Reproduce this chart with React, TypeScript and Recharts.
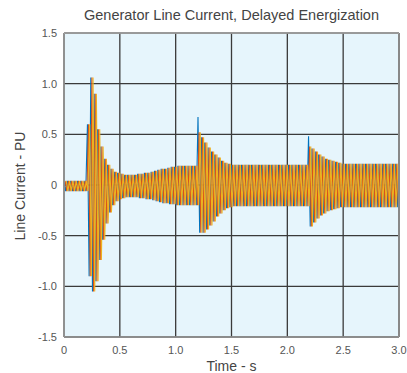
import React from "react";
import { LineChart, Line, XAxis, YAxis, CartesianGrid, ReferenceLine } from "recharts";

// positive / negative peak envelope of the phase currents, read every 0.03 s from 0 to 3.0 s
const upperEnvelope = [
  0.04, 0.04, 0.04, 0.04, 0.04, 0.04, 0.04,
  0.60, 1.06, 0.90, 0.55, 0.38, 0.26, 0.20, 0.16, 0.13, 0.12, 0.11,
  0.10, 0.10, 0.10, 0.10,
  0.11, 0.11, 0.12, 0.12, 0.13, 0.14, 0.15, 0.16, 0.16, 0.17, 0.18, 0.18,
  0.19, 0.19, 0.19, 0.19, 0.19, 0.19,
  0.52, 0.47, 0.42, 0.37, 0.33, 0.30, 0.27, 0.24, 0.22, 0.21,
  0.20, 0.20, 0.20, 0.20, 0.20, 0.20, 0.20, 0.20, 0.20, 0.20, 0.20, 0.20,
  0.20, 0.20, 0.20, 0.20, 0.20, 0.20, 0.20, 0.20, 0.20, 0.20, 0.20,
  0.38, 0.36, 0.33, 0.30, 0.28, 0.26, 0.25, 0.24, 0.23, 0.22, 0.21,
  0.21, 0.21, 0.21, 0.21, 0.21, 0.21, 0.21, 0.21, 0.21, 0.21, 0.21, 0.21,
  0.21, 0.21, 0.21, 0.21, 0.21,
];

const lowerEnvelope = [
  -0.06, -0.06, -0.06, -0.06, -0.06, -0.06, -0.06,
  -0.90, -1.05, -0.95, -0.74, -0.54, -0.38, -0.27, -0.20, -0.16, -0.14, -0.13,
  -0.12, -0.12, -0.12, -0.12,
  -0.13, -0.13, -0.14, -0.14, -0.15, -0.16, -0.17, -0.18, -0.18, -0.19, -0.19, -0.20,
  -0.20, -0.20, -0.20, -0.20, -0.20, -0.20,
  -0.47, -0.47, -0.44, -0.40, -0.36, -0.31, -0.28, -0.25, -0.23, -0.22,
  -0.21, -0.21, -0.21, -0.21, -0.21, -0.21, -0.21, -0.21, -0.21, -0.21, -0.21, -0.21,
  -0.21, -0.21, -0.21, -0.21, -0.21, -0.21, -0.21, -0.21, -0.21, -0.21, -0.21,
  -0.41, -0.37, -0.33, -0.30, -0.28, -0.26, -0.25, -0.24, -0.23, -0.22, -0.22,
  -0.22, -0.22, -0.22, -0.22, -0.22, -0.22, -0.22, -0.22, -0.22, -0.22, -0.22, -0.22,
  -0.22, -0.22, -0.22, -0.22, -0.22,
];

// single-phase peaks that stick out above the envelope (phase A, blue)
const phaseASpikes = [
  { index: 40, v: 0.67 },
  { index: 73, v: 0.48 },
];

const STEP = 0.03;
const phaseColors = ["#0072BD", "#D95319", "#EDB120"];
const xTicks = [0, 0.5, 1, 1.5, 2, 2.5, 3];
const yTicks = [-1.5, -1, -0.5, 0, 0.5, 1, 1.5];

const buildPhase = (k: number, spikes: { index: number; v: number }[]) =>
  upperEnvelope.flatMap((u, i) => {
    const spike = spikes.find((s) => s.index === i);
    const t0 = i * STEP + (k * STEP) / 3;
    return [
      { t: t0, v: spike ? spike.v : u },
      { t: t0 + STEP / 2, v: lowerEnvelope[i] },
    ];
  });

const phases = [buildPhase(0, phaseASpikes), buildPhase(1, []), buildPhase(2, [])];

const fmt = (v: number) => (v === 0 ? "0" : v.toFixed(1));
const font = "'Liberation Sans', Arial, sans-serif";
const tickStyle = { fill: "#555", fontSize: 11, fontFamily: font };

export default function App() {
  return (
    <div style={{ position: "absolute", left: 0, top: 0, width: 407, height: 373, background: "#fff", fontFamily: font }}>
      <div style={{ position: "absolute", left: 64, width: 335, top: 7, textAlign: "center", fontSize: 14.5, color: "#444" }}>
        Generator Line Current, Delayed Energization
      </div>
      <div
        style={{
          position: "absolute",
          left: 20,
          top: 186,
          transform: "translate(-50%, -50%) rotate(-90deg)",
          whiteSpace: "nowrap",
          fontSize: 14,
          color: "#444",
        }}
      >
        Line Current - PU
      </div>
      <div style={{ position: "absolute", left: 64, width: 335, top: 358, textAlign: "center", fontSize: 14, color: "#444" }}>
        Time - s
      </div>
      <LineChart width={407} height={373} margin={{ top: 33, right: 8, bottom: 0, left: 0 }}>
        <CartesianGrid horizontal={false} vertical={false} fill="#E6F5FC" />
        <XAxis
          dataKey="t"
          type="number"
          domain={[0, 3]}
          ticks={xTicks}
          tickFormatter={fmt}
          tick={tickStyle}
          tickLine={false}
          tickSize={0}
          tickMargin={9}
          height={36}
          axisLine={false}
          allowDataOverflow
        />
        <YAxis
          type="number"
          domain={[-1.5, 1.5]}
          ticks={yTicks}
          tickFormatter={fmt}
          tick={tickStyle}
          tickLine={false}
          tickSize={0}
          tickMargin={7}
          width={64}
          axisLine={false}
          allowDataOverflow
        />
        {phases.map((d, k) => (
          <Line
            key={k}
            data={d}
            dataKey="v"
            stroke={phaseColors[k]}
            strokeWidth={1.1}
            dot={false}
            isAnimationActive={false}
          />
        ))}
        <CartesianGrid stroke="#3a3a3a" strokeWidth={1.3} fill="none" />
        <ReferenceLine x={0} stroke="#999" strokeWidth={1.5} />
        <ReferenceLine x={3} stroke="#888" strokeWidth={2} />
        <ReferenceLine y={1.5} stroke="#aaa" strokeWidth={1.5} />
        <ReferenceLine y={-1.5} stroke="#999" strokeWidth={1.5} />
      </LineChart>
    </div>
  );
}
